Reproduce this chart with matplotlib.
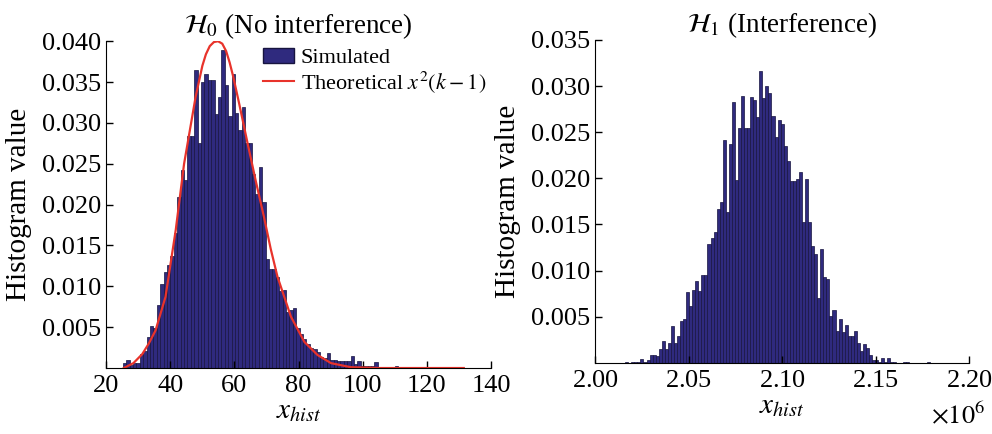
import numpy as np
import matplotlib
matplotlib.use('Agg')
import matplotlib.pyplot as plt
import matplotlib.ticker as ticker
from matplotlib.patches import Patch
from matplotlib.lines import Line2D

plt.rcParams['font.family'] = ['Liberation Serif', 'DejaVu Serif']
plt.rcParams['mathtext.fontset'] = 'stix'

# H0 histogram: 100 equal bins starting at h0_start
h0_start = 25.19
h0_width = 1.06
h0_heights = [
    0.00065, 0.00098, 0.0004, 0.0006, 0.0006, 0.0017, 0.0021, 0.0038, 0.0051, 0.0049,
    0.0077, 0.0103, 0.0117, 0.0126, 0.0137, 0.0165, 0.0209, 0.0242, 0.0230, 0.0284,
    0.0284, 0.0365, 0.0275, 0.0350, 0.0360, 0.0353, 0.0353, 0.0311, 0.0332, 0.0389,
    0.0346, 0.0309, 0.0360, 0.0312, 0.0291, 0.0320, 0.0275, 0.0275, 0.0238, 0.0213,
    0.0246, 0.0203, 0.0134, 0.0121, 0.0121, 0.0112, 0.0094, 0.0095, 0.0069, 0.0071,
    0.0073, 0.0049, 0.0042, 0.0036, 0.0030, 0.0024, 0.0023, 0.0020, 0.0014, 0.0012,
    0.0018, 0.0010, 0.0010, 0.0009, 0.0009, 0.0009, 0.0008, 0.0015, 0.0005, 0.0009,
    0.0002, 0.0003, 0.0003, 0.0003, 0.0007, 0.0001, 0.0001, 0.0, 0.0001, 0.0,
    0.0002, 0.0, 0.0, 0.0001, 0.0, 0.0, 0.0, 0.0, 0.0, 0.0,
    0.0, 0.0001, 0.0, 0.0, 0.0, 0.0, 0.0, 0.0, 0.0, 0.0001,
]

# theoretical chi-square curve
theory_x = [25.5, 26.0, 28.5, 31.25, 33.3, 35.4, 38.5, 41.7, 44.3, 47.9, 50.0, 51.1,
            52.3, 53.6, 54.9, 56.2, 57.4, 58.5, 59.6, 61.4, 64.1, 66.7, 69.2, 71.3,
            73.4, 77.6, 81.8, 85.9, 90.1, 96.3, 105.0, 131.5]
theory_y = [0.0, 0.0001, 0.0006, 0.0017, 0.0030, 0.0046, 0.0087, 0.0169, 0.0250, 0.0332,
            0.0370, 0.0384, 0.0394, 0.0399, 0.0400, 0.0397, 0.0388, 0.0374, 0.0357,
            0.0325, 0.0275, 0.0228, 0.0185, 0.0146, 0.0112, 0.0063, 0.0032, 0.0016,
            0.0006, 0.0001, 0.0, 0.0]

# H1 histogram: 100 equal bins starting at h1_start
h1_start = 2.01604e6
h1_width = 1630.0
h1_heights = [
    0.0001, 0.0, 0.0001, 0.0001, 0.0001, 0.0004, 0.0001, 0.0003, 0.0008, 0.0008,
    0.0007, 0.0015, 0.0024, 0.0015, 0.0021, 0.0040, 0.0022, 0.0029, 0.0045, 0.0047,
    0.0077, 0.0062, 0.0079, 0.0089, 0.0078, 0.0095, 0.0095, 0.0129, 0.0135, 0.0142,
    0.0167, 0.0174, 0.0242, 0.0164, 0.0237, 0.0283, 0.0198, 0.0254, 0.0289, 0.0254,
    0.0254, 0.0288, 0.0285, 0.0267, 0.0316, 0.0287, 0.0300, 0.0292, 0.0268, 0.0245,
    0.0263, 0.0259, 0.0235, 0.0219, 0.0197, 0.0197, 0.0199, 0.0207, 0.0153, 0.0199,
    0.0153, 0.0127, 0.0118, 0.0070, 0.0123, 0.0093, 0.0091, 0.0051, 0.0057, 0.0034,
    0.0047, 0.0033, 0.0041, 0.0029, 0.0029, 0.0034, 0.0021, 0.0013, 0.0020, 0.0016,
    0.0009, 0.0003, 0.0003, 0.0001, 0.0005, 0.0001, 0.0005, 0.0001, 0.0001, 0.0,
    0.0, 0.0001, 0.0001, 0.0, 0.0, 0.0, 0.0, 0.0, 0.0, 0.0001,
]

left_xticks = [20, 40, 60, 80, 100, 120, 140]
left_yticks = [0.005, 0.010, 0.015, 0.020, 0.025, 0.030, 0.035, 0.040]
right_xticks = [2.00e6, 2.05e6, 2.10e6, 2.15e6, 2.20e6]
right_yticks = [0.005, 0.010, 0.015, 0.020, 0.025, 0.030, 0.035]

bar_face = '#2f2a7e'
bar_edge = '#17143f'
red = '#e8332b'
fs = 19

fig = plt.figure(figsize=(9.92, 4.34), dpi=100)
ax0 = fig.add_axes([0.107, 0.152, 0.388, 0.753])
ax1 = fig.add_axes([0.600, 0.164, 0.377, 0.744])


def style_axes(ax):
  for s in ['top', 'right']:
    ax.spines[s].set_visible(False)
  ax.tick_params(direction='in', length=5, width=1, labelsize=fs)
  ax.tick_params(axis='x', pad=5)
  ax.yaxis.set_major_formatter(ticker.FormatStrFormatter('%.3f'))
  ax.set_ylabel('Histogram value', fontsize=21, labelpad=7)
  ax.set_xlabel(r'$x_{hist}$', fontsize=21, labelpad=1)


# left panel
x0 = h0_start + h0_width * np.arange(len(h0_heights))
ax0.bar(x0, h0_heights, width=h0_width, align='edge',
        color=bar_face, edgecolor=bar_edge, linewidth=0.5)
ax0.plot(theory_x, theory_y, color=red, linewidth=1.6)
ax0.set_xlim(20, 140)
ax0.set_ylim(0, 0.040)
ax0.set_xticks(left_xticks)
ax0.set_yticks(left_yticks)
style_axes(ax0)
ax0.set_title(r'$\mathcal{H}_0$ (No interference)', fontsize=19.5, pad=5)
handles = [Patch(facecolor=bar_face, edgecolor=bar_edge),
           Line2D([0], [0], color=red, linewidth=1.5)]
ax0.legend(handles, ['Simulated', r'Theoretical $x^2(k-1)$'], loc='upper right',
           bbox_to_anchor=(1.021, 1.021), frameon=False, fontsize=16,
           handlelength=1.4, handletextpad=0.3, labelspacing=0.05,
           borderaxespad=0.2)

# right panel
x1 = h1_start + h1_width * np.arange(len(h1_heights))
ax1.bar(x1, h1_heights, width=h1_width, align='edge',
        color=bar_face, edgecolor=bar_edge, linewidth=0.5)
ax1.set_xlim(2.00e6, 2.20e6)
ax1.set_ylim(0, 0.035)
ax1.set_xticks(right_xticks)
ax1.set_yticks(right_yticks)
fmt = ticker.ScalarFormatter(useMathText=True, useOffset=False)
fmt.set_powerlimits((0, 0))
ax1.xaxis.set_major_formatter(fmt)
style_axes(ax1)
ax1.xaxis.get_offset_text().set_visible(False)
ax1.text(1.043, -0.161, r'$\times10^6$', transform=ax1.transAxes,
         ha='right', va='center', fontsize=fs)
ax1.set_title(r'$\mathcal{H}_1$ (Interference)', fontsize=19.5, pad=5)

fig.savefig('out.png', dpi=100)
